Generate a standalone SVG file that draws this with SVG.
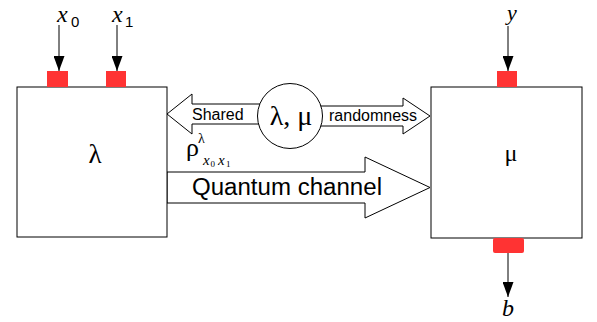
<svg xmlns="http://www.w3.org/2000/svg" width="597" height="322" viewBox="0 0 597 322">
<style>
.box{fill:#fff;stroke:#000;stroke-width:1}
.port{fill:#ff3333;stroke:none}
.wire{stroke:#000;stroke-width:1;fill:none}
.fat{fill:#fff;stroke:#000;stroke-width:1;stroke-linejoin:miter}
.sans{font-family:"Liberation Sans",Arial,sans-serif;fill:#000}
.serif{font-family:"Liberation Serif","DejaVu Serif",serif;fill:#000}
.it{font-family:"Liberation Serif","DejaVu Serif",serif;font-style:italic;fill:#000}
</style>
<defs>
<marker id="ah" viewBox="0 0 15 11" refX="15" refY="5.5" markerWidth="15" markerHeight="11" markerUnits="userSpaceOnUse" orient="auto">
<path d="M0,0 L15,5.5 L0,11 z" fill="#000"/>
</marker>
</defs>
<rect width="597" height="322" fill="#fff"/>
<g id="connectors">
<line class="wire" x1="59" y1="25" x2="59" y2="71" marker-end="url(#ah)"/>
<line class="wire" x1="117" y1="25" x2="117" y2="71" marker-end="url(#ah)"/>
<line class="wire" x1="508" y1="26" x2="508" y2="71" marker-end="url(#ah)"/>
<line class="wire" x1="508" y1="253" x2="508" y2="297" marker-end="url(#ah)"/>
<polygon class="fat" points="290,104 192,104 192,94 167,114 192,134 192,124 290,124"/>
<polygon class="fat" points="290,106 403,106 403,98 430,116 403,134 403,126 290,126"/>
<polygon class="fat" points="167,172 365,172 365,157 430,187.5 365,218 365,203 167,203"/>
<text class="sans" x="192" y="120" font-size="16">Shared</text>
<text class="sans" x="329" y="121" font-size="16">randomness</text>
<text class="sans" x="192" y="195" font-size="23" textLength="190" lengthAdjust="spacingAndGlyphs">Quantum channel</text>
</g>
<g id="node-alice">
<rect class="box" x="17" y="87" width="150" height="150"/>
<rect class="port" x="47" y="71" width="21" height="16"/>
<rect class="port" x="106" y="71" width="20" height="16"/>
<text class="serif" x="95" y="163" font-size="27" text-anchor="middle">λ</text>
</g>
<g id="node-bob">
<rect class="box" x="431" y="87" width="151" height="151"/>
<rect class="port" x="497" y="71" width="20" height="16"/>
<rect class="port" x="493" y="238" width="31" height="15" rx="2"/>
<text class="serif" x="511" y="161" font-size="24" text-anchor="middle">μ</text>
</g>
<g id="node-source">
<circle class="box" cx="290" cy="116" r="32.5"/>
<text class="serif" x="291" y="125" font-size="28" text-anchor="middle">λ, μ</text>
</g>
<g id="labels">
<text class="it" x="57" y="22" font-size="24">x</text>
<text class="sans" x="71" y="27" font-size="15">0</text>
<text class="it" x="112" y="22" font-size="24">x</text>
<text class="sans" x="125" y="27" font-size="15">1</text>
<text class="it" x="507" y="20" font-size="22">y</text>
<text class="it" x="502" y="316" font-size="24">b</text>
<text class="serif" x="186" y="156" font-size="26">ρ</text>
<text class="serif" x="198" y="143" font-size="14">λ</text>
<text class="it" x="203" y="165" font-size="15">x</text>
<text class="serif" x="210.5" y="167" font-size="9">0</text>
<text class="it" x="218" y="165" font-size="15">x</text>
<text class="serif" x="226" y="167" font-size="9">1</text>
</g>
</svg>
